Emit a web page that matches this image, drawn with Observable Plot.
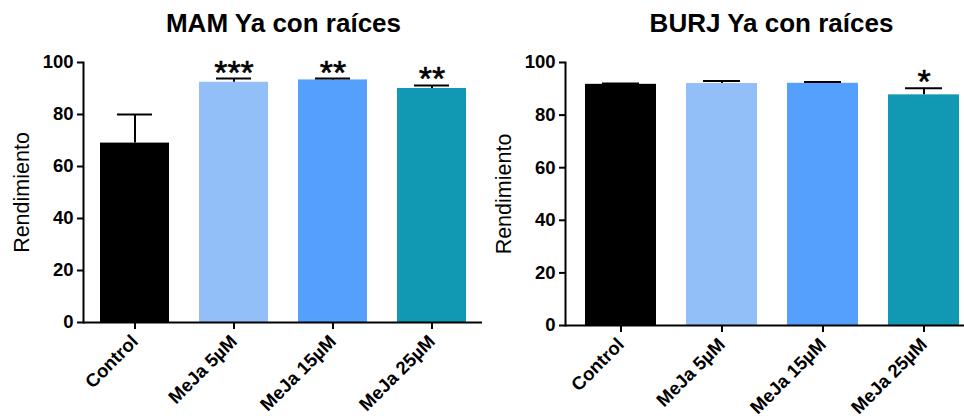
<!DOCTYPE html>
<html>
<head>
<meta charset="utf-8">
<script src="https://cdn.jsdelivr.net/npm/d3@7"></script>
<script src="https://cdn.jsdelivr.net/npm/@observablehq/plot@0.6"></script>
<style>
  html, body { margin: 0; padding: 0; background: white; }
  #wrap { display: flex; width: 964px; height: 420px; overflow: hidden; }
  .panel { width: 482px; position: relative; }
  .title { font-family: "Liberation Sans", Arial, sans-serif; font-weight: bold; font-size: 26px;
           line-height: 24px; height: 39px; padding-top: 11px; text-align: center; color: #000; white-space: nowrap; }
</style>
</head>
<body>
<div id="wrap"></div>
<script>
// ---- data ----
const categories = ["Control", "MeJa 5µM", "MeJa 15µM", "MeJa 25µM"];
const barColors = ["#000000", "#92bff8", "#54a0fc", "#1198b2"];
const yTicks = [0, 20, 40, 60, 80, 100];

const mamTitle = "MAM Ya con raíces";
const mamValues = [69.0, 92.4, 93.3, 90.0];
const mamErrors = [11.0, 1.4, 0.5, 1.2];
const mamStars = ["", "***", "**", "**"];

const burjTitle = "BURJ Ya con raíces";
const burjValues = [91.7, 92.0, 92.1, 87.7];
const burjErrors = [0.3, 1.0, 0.5, 2.5];
const burjStars = ["", "", "", "*"];

const yLabel = "Rendimiento";

function panel(title, values, errors, stars, cfg) {
  const data = categories.map((c, i) => ({cat: c, value: values[i], err: errors[i], stars: stars[i], color: barColors[i]}));
  const div = document.createElement("div");
  div.className = "panel";
  const t = document.createElement("div");
  t.className = "title";
  t.style.marginLeft = cfg.left + "px";
  t.style.width = (cfg.xEnd - cfg.left) + "px";
  t.textContent = title;
  div.appendChild(t);
  const chart = Plot.plot({
    width: 482,
    height: 370,
    marginLeft: cfg.left,
    marginRight: 0,
    marginTop: cfg.top,
    marginBottom: cfg.bottom,
    style: {fontFamily: "Liberation Sans, Arial, sans-serif", color: "black", background: "white", overflow: "visible"},
    x: {domain: categories, range: [cfg.left, cfg.xEnd], paddingInner: 0.3, paddingOuter: cfg.pad},
    y: {domain: [0, 100]},
    marks: [
      Plot.barY(data, {x: "cat", y: "value", fill: "color"}),
      Plot.ruleX(data, {x: "cat", y1: "value", y2: d => d.value + d.err, stroke: "black", strokeWidth: 2}),
      Plot.tickY(data, {x: "cat", y: d => d.value + d.err, stroke: "black", strokeWidth: 2, insetLeft: 17, insetRight: 17}),
      Plot.text(data, {x: "cat", y: d => d.value + d.err, text: "stars", fontSize: 34, dy: -6, fill: "black", stroke: "black", strokeWidth: 0.6}),
      Plot.ruleY([0], {stroke: "black", strokeWidth: 2}),
      Plot.frame({anchor: "left", stroke: "black", strokeWidth: 2}),
      Plot.axisY({ticks: yTicks, tickSize: 6, tickPadding: 4, strokeWidth: 2, fontSize: 18.5, fontWeight: "bold", label: null}),
      Plot.axisY({ticks: [], label: yLabel, labelAnchor: "center", labelOffset: 70, labelArrow: "none", fontSize: 21.5, fontWeight: "normal", tickSize: 0}),
      Plot.axisX({tickSize: 7, tickRotate: -45, tickPadding: 9, strokeWidth: 2, fontSize: 18.5, fontWeight: "bold", label: null})
    ]
  });
  div.appendChild(chart);
  return div;
}

const wrap = document.getElementById("wrap");
wrap.appendChild(panel(mamTitle, mamValues, mamErrors, mamStars, {left: 83, xEnd: 484, pad: 0.17, top: 12, bottom: 98}));
wrap.appendChild(panel(burjTitle, burjValues, burjErrors, burjStars, {left: 83, xEnd: 496, pad: 0.19, top: 12, bottom: 95}));
</script>
</body>
</html>
